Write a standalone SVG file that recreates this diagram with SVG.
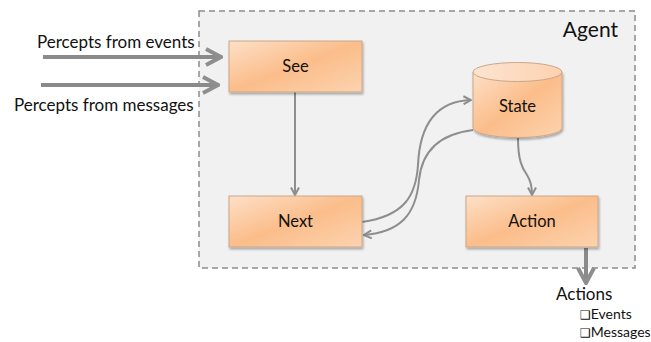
<svg xmlns="http://www.w3.org/2000/svg" width="651" height="342" viewBox="0 0 651 342">
  <style>
    .lbl { font-family: Lato, "Open Sans", "DejaVu Sans", sans-serif; fill: #111; }
    .node { fill: url(#peach); stroke: #c9a78a; stroke-width: 1; filter: url(#shadow); }
    .thin { fill: none; stroke: #8e8e8e; stroke-width: 2; marker-end: url(#chev); }
    .thick { fill: none; stroke: #8a8a8a; stroke-width: 4; marker-end: url(#chev); }
    .box { font-family: "DejaVu Sans", sans-serif; font-size: 12px; }
  </style>
  <defs>
    <linearGradient id="peach" x1="0" y1="0" x2="1" y2="1">
      <stop offset="0" stop-color="#fde0c8"/>
      <stop offset="0.5" stop-color="#fbbd8a"/>
      <stop offset="1" stop-color="#fcd3af"/>
    </linearGradient>
    <linearGradient id="peachTop" x1="0" y1="0" x2="1" y2="0">
      <stop offset="0" stop-color="#fde4d0"/>
      <stop offset="1" stop-color="#fcd2b0"/>
    </linearGradient>
    <filter id="shadow" x="-10%" y="-10%" width="125%" height="130%">
      <feDropShadow dx="1" dy="2" stdDeviation="1.2" flood-color="#000" flood-opacity="0.3"/>
    </filter>
    <!-- open chevron arrowhead, scaled by the stroke width of the line -->
    <marker id="chev" viewBox="0 0 10 10" refX="9" refY="5" markerWidth="5" markerHeight="5" orient="auto" markerUnits="strokeWidth">
      <path d="M1.5,1 L9,5 L1.5,9" fill="none" stroke="#8e8e8e" stroke-width="2" stroke-linejoin="miter"/>
    </marker>
  </defs>

  <rect width="651" height="342" fill="#ffffff"/>

  <!-- agent boundary -->
  <g id="agent">
    <rect x="199" y="11" width="436" height="257" fill="#f1f1f1" stroke="#8c8c8c" stroke-width="1.5" stroke-dasharray="6,4"/>
    <text class="lbl" x="618" y="37" font-size="21" text-anchor="end">Agent</text>
  </g>

  <!-- connectors -->
  <g id="connectors">
    <path class="thick" d="M43,57 L221,57"/>
    <path class="thick" d="M41,85 L218,85"/>
    <path class="thin" d="M295,92 L295,195"/>
    <path class="thin" d="M362,222 C405,216 416,195 418,165 C420,120 440,101 471,100"/>
    <path class="thin" d="M473,130 C440,134 422,150 419,180 C416,215 400,232 364,235"/>
    <path class="thin" d="M518,138 C518,160 522,168 527,175 C531,181 532,188 532,195"/>
    <path class="thick" d="M586,248 L586,283" stroke-width="5"/>
  </g>

  <g id="see">
    <rect class="node" x="229" y="41" width="133" height="51"/>
    <text class="lbl" x="295.5" y="72" font-size="16.5" text-anchor="middle">See</text>
  </g>

  <g id="next">
    <rect class="node" x="229" y="196" width="133" height="51"/>
    <text class="lbl" x="295.5" y="227" font-size="16.5" text-anchor="middle">Next</text>
  </g>

  <g id="action">
    <rect class="node" x="466" y="196" width="132" height="51"/>
    <text class="lbl" x="532" y="227" font-size="16.5" text-anchor="middle">Action</text>
  </g>

  <g id="state">
    <path class="node" d="M473,72 L473,128 A44.5,9.5 0 0 0 562,128 L562,72 Z"/>
    <ellipse cx="517.5" cy="72" rx="44.5" ry="9.5" fill="url(#peachTop)" stroke="#c9a78a" stroke-width="1"/>
    <text class="lbl" x="517.5" y="112" font-size="16.5" text-anchor="middle">State</text>
  </g>

  <!-- outside labels -->
  <g id="inputs">
    <text class="lbl" x="37" y="48" font-size="17">Percepts from events</text>
    <text class="lbl" x="14" y="111" font-size="17">Percepts from messages</text>
  </g>

  <g id="outputs">
    <text class="lbl" x="556" y="300" font-size="17">Actions</text>
    <text class="lbl" x="580" y="319" font-size="14"><tspan class="box">❑</tspan>Events</text>
    <text class="lbl" x="580" y="337" font-size="14"><tspan class="box">❑</tspan>Messages</text>
  </g>
</svg>
